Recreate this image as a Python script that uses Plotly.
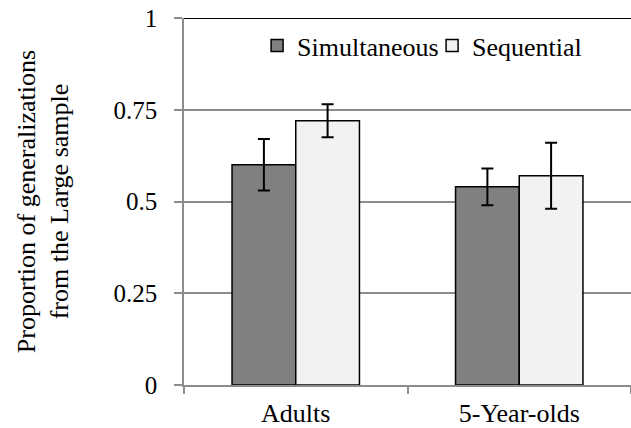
import plotly.graph_objects as go

categories = ["Adults", "5-Year-olds"]
series_names = ["Simultaneous", "Sequential"]
simultaneous = [0.60, 0.54]
simultaneous_err = [0.07, 0.05]
sequential = [0.72, 0.57]
sequential_err = [0.045, 0.09]
y_ticks = [0, 0.25, 0.5, 0.75, 1]
y_tick_labels = ["0", "0.25", "0.5", "0.75", "1"]

FONT = "Times New Roman, Liberation Serif, serif"
GRID = "#8c8c8c"

fig = go.Figure()
fig.add_trace(go.Bar(
    name=series_names[0], x=categories, y=simultaneous,
    marker=dict(color="#808080", line=dict(color="black", width=1.5)),
    error_y=dict(type="data", array=simultaneous_err, color="black", thickness=2, width=6),
))
fig.add_trace(go.Bar(
    name=series_names[1], x=categories, y=sequential,
    marker=dict(color="#f2f2f2", line=dict(color="black", width=1.5)),
    error_y=dict(type="data", array=sequential_err, color="black", thickness=2, width=6),
))

fig.update_layout(
    width=631, height=428,
    margin=dict(l=184, r=0, t=18, b=43),
    paper_bgcolor="white", plot_bgcolor="white",
    barmode="group", bargap=0.43, bargroupgap=0,
    font=dict(family=FONT, size=25, color="black"),
    showlegend=True,
    legend=dict(orientation="h", x=0.1635, y=0.925, xanchor="left", yanchor="middle",
                font=dict(family=FONT, size=26), bgcolor="rgba(0,0,0,0)",
                traceorder="normal", itemclick=False,
                entrywidth=130, entrywidthmode="pixels"),
)
fig.update_xaxes(
    showline=True, linecolor=GRID, linewidth=1.5,
    ticks="outside", tickson="boundaries", ticklen=7, tickcolor=GRID, tickwidth=1.5,
    tickfont=dict(family=FONT, size=26), showgrid=False, ticklabelstandoff=4,
)
fig.update_yaxes(
    range=[0, 1], tickvals=y_ticks, ticktext=y_tick_labels,
    showline=True, linecolor=GRID, linewidth=1.5,
    ticks="outside", ticklen=8, tickcolor=GRID, tickwidth=1.5,
    showgrid=True, gridcolor=GRID, gridwidth=1.5, zeroline=False,
    tickfont=dict(family=FONT, size=25), ticklabelstandoff=12,
    title=dict(text="Proportion of generalizations<br>from the Large sample",
               font=dict(family=FONT, size=26), standoff=37),
)
fig.add_shape(type="line", xref="paper", yref="y", x0=0, x1=1, y0=1, y1=1,
              line=dict(color="black", width=2))

fig.write_html("out.html", config={"displayModeBar": False},
               post_script="document.body.style.margin='0';")
